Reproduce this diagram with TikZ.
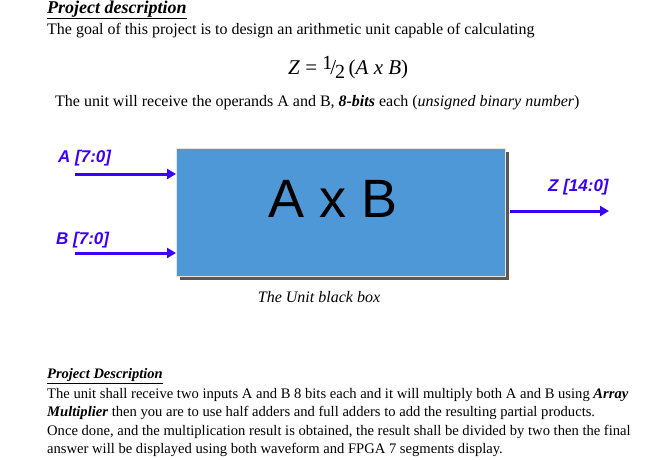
\documentclass[tikz,border=0pt]{standalone}
\usepackage{fontspec}
\setmainfont{Liberation Serif}
\setsansfont{Liberation Sans}
\usetikzlibrary{arrows.meta}
\definecolor{boxblue}{RGB}{79,152,216}
\definecolor{arrowblue}{RGB}{60,0,250}
\tikzset{
  txt/.style={anchor=west,inner sep=0pt,font=\fontsize{16}{18}\selectfont},
  btxt/.style={anchor=west,inner sep=0pt,font=\fontsize{14.6}{17}\selectfont},
  lbl/.style={inner sep=0pt,text=arrowblue,font=\sffamily\bfseries\itshape\fontsize{17}{19}\selectfont},
  sig/.style={draw=arrowblue,line width=3pt,-{Triangle[length=9pt,width=10pt]}}
}
\begin{document}
\begin{tikzpicture}[x=1pt,y=-1pt]
\useasboundingbox (0,0) rectangle (660,459);
\node[txt,font=\fontsize{18}{20}\selectfont] (t1) at (47,10) {\textbf{\textit{\underline{Project description}}}};
\node[txt] (t2) at (47,31) {The goal of this project is to design an arithmetic unit capable of calculating};
\node[txt,font=\fontsize{21}{24}\selectfont] (f) at (288,68) {\textit{Z} = \raisebox{5pt}{\fontsize{20}{20}\selectfont 1}\kern-2pt/\kern-1pt\raisebox{-4pt}{\fontsize{20}{20}\selectfont 2}\,(\textit{A x B})};
\node[txt] (t3) at (55,103) {The unit will receive the operands A and B, \textbf{\textit{8-bits}} each (\textit{unsigned binary number})};
% box
\fill[gray!70!black] (180,152) rectangle (509,280);
\node[draw=gray!20,line width=1.2pt,fill=boxblue,minimum width=329pt,minimum height=128pt,anchor=north west,inner sep=0pt] (box) at (176,148) {};
\node[font=\sffamily\fontsize{54}{56}\selectfont] (axb) at (333,199) {A x B};
\node[lbl,anchor=west] (la) at (58,158) {A [7:0]};
\node[lbl,anchor=west] (lb) at (56,240) {B [7:0]};
\node[lbl,anchor=west] (lz) at (548,187) {Z [14:0]};
\coordinate (a0) at (75,174);
\coordinate (b0) at (75,253);
\coordinate (z1) at (609,211);
\draw[sig] (a0) -- (a0 -| box.west);
\draw[sig] (b0) -- (b0 -| box.west);
\draw[sig] (z1 -| 510,0) -- (z1);
\node[txt,anchor=center] (cap) at (319,297) {\textit{The Unit black box}};
\node[btxt,font=\fontsize{14.5}{17}\selectfont] (p0) at (47,376) {\textbf{\textit{\underline{Project Description}}}};
\node[btxt] (p1) at (47,395) {The unit shall receive two inputs A and B 8 bits each and it will multiply both A and B using \textbf{\textit{Array}}};
\node[btxt] (p2) at (47,413) {\textbf{\textit{Multiplier}} then you are to use half adders and full adders to add the resulting partial products.};
\node[btxt] (p3) at (47,432) {Once done, and the multiplication result is obtained, the result shall be divided by two then the final};
\node[btxt] (p4) at (47,450) {answer will be displayed using both waveform and FPGA 7 segments display.};
\end{tikzpicture}
\end{document}
